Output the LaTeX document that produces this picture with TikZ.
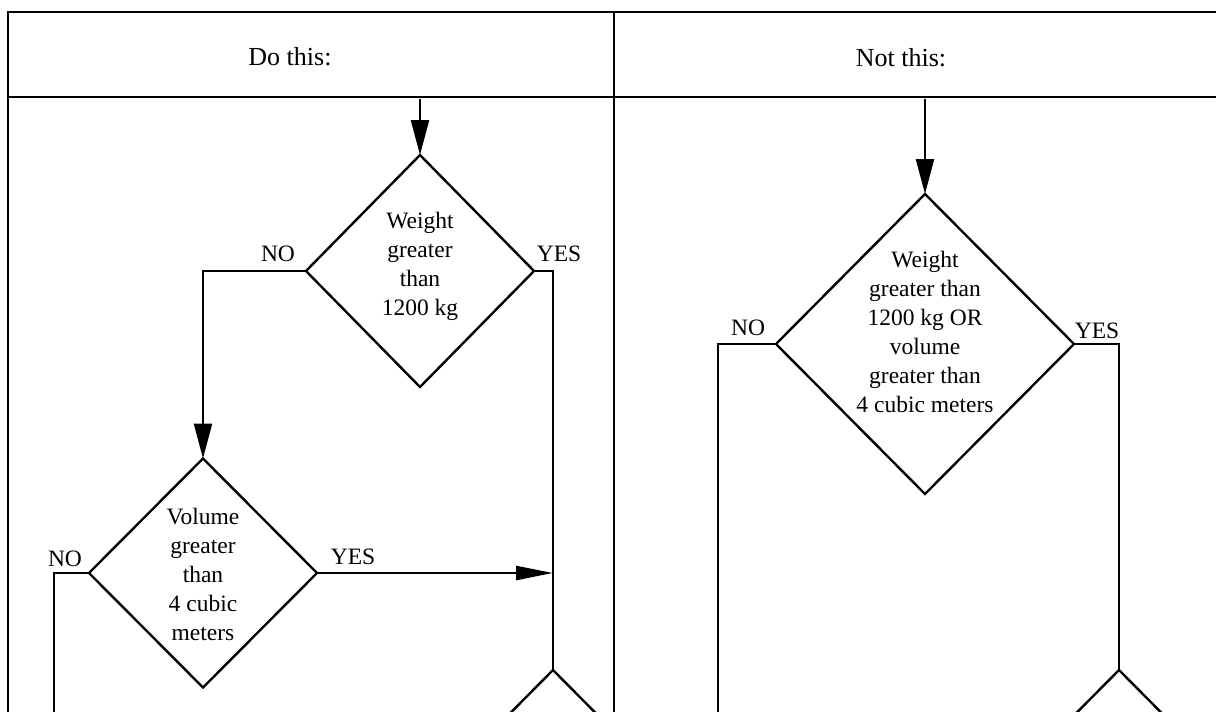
\documentclass[tikz,border=0pt]{standalone}
\usepackage{fontspec}
\setmainfont{Liberation Serif}
\usetikzlibrary{shapes.geometric,arrows.meta}
\begin{document}
\begin{tikzpicture}[x=1pt,y=-1pt,
  line width=2.4pt,
  dia/.style={draw, diamond, inner sep=0pt, outer sep=0pt, minimum width=228pt, minimum height=230pt},
  dtext/.style={align=center, font=\fontsize{23.5}{29}\selectfont, inner sep=0pt},
  lbl/.style={font=\fontsize{23.5}{29}\selectfont, inner sep=0pt},
  head/.style={font=\fontsize{26}{31}\selectfont, inner sep=0pt},
  arr/.style={-{Triangle[length=35pt,width=18pt]}},
  arrthin/.style={-{Triangle[length=37pt,width=14pt]}},
  frame/.style={line width=2.6pt}]
\useasboundingbox (0,0) rectangle (1216,712);
\clip (0,0) rectangle (1216,712);
% frame (cut off at right and bottom)
\draw[frame] (1230,12) -- (8,12) -- (8,730);
\draw[frame] (8,97) -- (1230,97);
\draw[frame] (614,12) -- (614,730);
% headers
\node[head] (h1) at (290,57) {Do this:};
\node[head] (h2) at (901,58) {Not this:};
% left panel
\node[dia, minimum width=228pt, minimum height=232pt] (d1) at (420,271) {};
\node[dtext] (t1) at ([yshift=5pt]d1.center) {Weight\\greater\\than\\1200 kg};
\node[dia, minimum width=228pt, minimum height=229pt] (d2) at (203,573) {};
\node[dtext] (t2) at ([yshift=-1pt]d2.center) {Volume\\greater\\than\\4 cubic\\meters};
\node[dia] (ld3) at (553,785) {};
% right panel
\node[dia, minimum width=298pt, minimum height=300pt] (d3) at (925,344) {};
\node[dtext] (t3) at ([yshift=12pt]d3.center) {Weight\\greater than\\1200 kg OR\\volume\\greater than\\4 cubic meters};
\node[dia] (rd4) at (1119,785) {};
% connectors left
\coordinate (s1) at (420,99);
\draw[arr] (s1) -- (d1.north);
\draw[arr] (d1.west) -| (d2.north);
\draw (d1.east) -| (ld3.north);
\coordinate (j1) at (d2.east -| ld3.north);
\draw[arrthin] (d2.east) -- (j1);
\coordinate (e1) at (54,730);
\draw (d2.west) -| (e1);
% connectors right
\coordinate (s2) at (925,99);
\draw[arr] (s2) -- (d3.north);
\coordinate (e2) at (718,730);
\draw (d3.west) -| (e2);
\draw (d3.east) -| (rd4.north);
% labels
\node[lbl] (n1) at (278,254) {NO};
\node[lbl] (y1) at (559,254) {YES};
\node[lbl] (n2) at (65,559) {NO};
\node[lbl] (y2) at (353,557) {YES};
\node[lbl] (n3) at (748,328) {NO};
\node[lbl] (y3) at (1097,331) {YES};
\end{tikzpicture}
\end{document}
